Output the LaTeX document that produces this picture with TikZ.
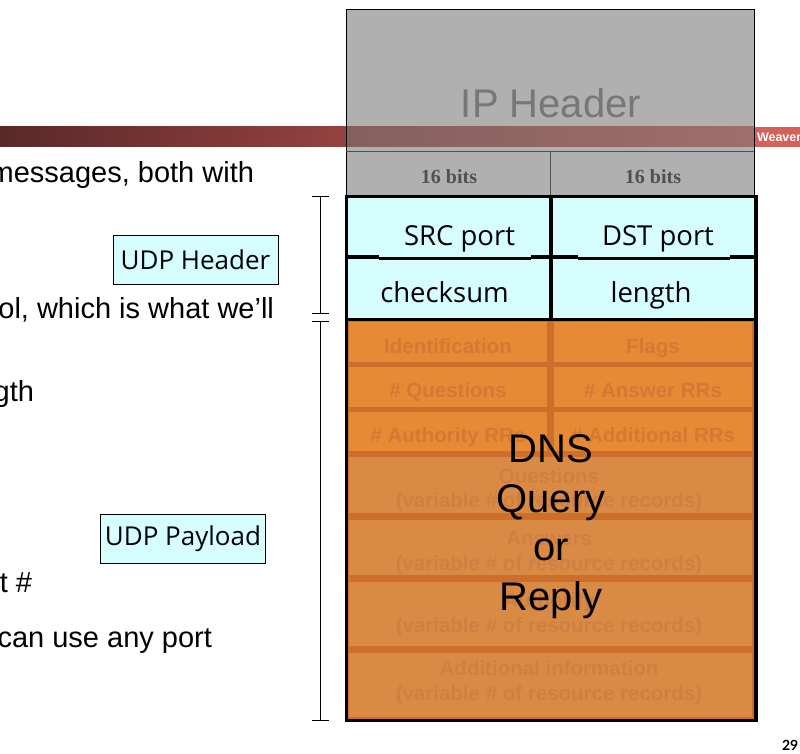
\documentclass[tikz,border=0pt]{standalone}
\usepackage{fontspec}
\setmainfont{Liberation Sans}
\newfontfamily\serfont{Liberation Serif}
\newfontfamily\comicfont{Open Sans}
\newfontfamily\numfont{Lato}
\usetikzlibrary{calc}
\definecolor{banL}{HTML}{5A2828}
\definecolor{banM}{HTML}{944240}
\definecolor{banR}{HTML}{D4605A}
\definecolor{ovL}{HTML}{84605D}
\definecolor{ovR}{HTML}{A06E6B}
\definecolor{ipgray}{HTML}{B0B0B0}
\definecolor{iptext}{HTML}{777777}
\definecolor{bitstext}{HTML}{505050}
\definecolor{udpcyan}{HTML}{D6FEFF}
\definecolor{orup}{HTML}{E68A35}
\definecolor{orsep}{HTML}{CD6F2B}
\definecolor{orlow}{HTML}{D98B45}
\definecolor{ortxtA}{HTML}{D27A33}
\definecolor{ortxtB}{HTML}{D07F42}
\newcommand\myfs[1]{\fontsize{#1}{#1}\selectfont}
\begin{document}
\begin{tikzpicture}[x=1pt,y=-1pt,
  every node/.style={inner sep=0pt, outer sep=0pt},
  slidetxt/.style={anchor=base east, font=\myfs{29}, text=black},
  celltxt/.style={anchor=base, font=\comicfont\myfs{27.5}, text=black},
  fieldA/.style={anchor=base, font=\bfseries\myfs{20.5}, text=ortxtA},
  fieldB/.style={anchor=base, font=\bfseries\myfs{20.5}, text=ortxtB},
  bitstxt/.style={anchor=base, font=\serfont\bfseries\myfs{20}, text=bitstext},
  bigtxt/.style={anchor=base, font=\myfs{40}, text=black},
  labelbox/.style={draw=black, line width=1pt, fill=udpcyan, minimum width=165pt, minimum height=49pt, font=\comicfont\myfs{26}},
  bracket/.style={draw=black, line width=1pt},
  thickln/.style={draw=black, line width=3.5pt}]
\useasboundingbox (0,0) rectangle (800,754);
\fill[white] (0,0) rectangle (800,754);

% banner
\shade[left color=banL, right color=banM] (0,127) rectangle (346,147);
\fill[banR] (754,127) rectangle (800,147);
\node[anchor=base west, text=white, font=\bfseries\myfs{12.5}] (weaver) at (757,142) {Weaver};

% IP header box
\fill[ipgray] (346,10) rectangle (754,196);
\shade[left color=ovL, right color=ovR] (346,127) rectangle (754,147);
\draw[line width=1pt] (346,196) -- (346,10) -- (754,10) -- (754,196);
\draw[line width=1pt, draw=bitstext] (346,152) -- (754,152);
\draw[line width=1pt, draw=bitstext] (550,152) -- (550,196);
\node[anchor=base, font=\myfs{40}, text=iptext] (iphdr) at (551,118) {IP Header};
\node[bitstxt] (bitsL) at (449,184) {16 bits};
\node[bitstxt] (bitsR) at (653,184) {16 bits};

% UDP header
\fill[udpcyan] (346,196) rectangle (756,320);
\draw[thickln] (346.5,196.5) rectangle (756,320);
\draw[line width=4pt] (551,196.5) -- (551,320);
\draw[thickln] (346.5,257) -- (379,257);
\draw[thickln] (379,258.5) -- (531,258.5);
\draw[thickln] (531,257) -- (578,257);
\draw[thickln] (578,258.5) -- (730,258.5);
\draw[thickln] (730,257) -- (756,257);
\node[celltxt] (src) at (459.5,245) {SRC port};
\node[celltxt] (dst) at (658,245) {DST port};
\node[celltxt] (chk) at (444.5,302) {checksum};
\node[celltxt] (len) at (651,302) {length};

% DNS message (orange)
\fill[orsep] (346,321) rectangle (756,721);
\fill[orup] (349,322) rectangle (547,362);
\fill[orup] (554,322) rectangle (752,362);
\fill[orup] (349,367) rectangle (547,407);
\fill[orup] (554,367) rectangle (752,407);
\fill[orup] (349,412) rectangle (547,451);
\fill[orup] (554,412) rectangle (752,451);
\fill[orlow] (349,457) rectangle (752,513);
\fill[orlow] (349,520) rectangle (752,575);
\fill[orlow] (349,582) rectangle (752,646);
\fill[orlow] (349,653) rectangle (752,717);
\draw[thickln, line join=miter] (346.5,321) -- (346.5,720.5) -- (756,720.5) -- (756,321);

\node[fieldA] (ident) at (448,353) {Identification};
\node[fieldA] (flags) at (653,353) {Flags};
\node[fieldA] (nq) at (448,397) {\# Questions};
\node[fieldA] (nans) at (653,397) {\# Answer RRs};
\node[fieldA] (nauth) at (448,442) {\# Authority RRs};
\node[fieldA] (nadd) at (653,442) {\# Additional RRs};
\node[fieldB] (q1) at (549,483) {Questions};
\node[fieldB] (q2) at (549,507) {(variable \# of resource records)};
\node[fieldB] (a1) at (549,545) {Answers};
\node[fieldB] (a2) at (549,570) {(variable \# of resource records)};
\node[fieldB] (au1) at (549,607) {Authority};
\node[fieldB] (au2) at (549,632) {(variable \# of resource records)};
\node[fieldB] (ad1) at (549,675) {Additional information};
\node[fieldB] (ad2) at (549,700) {(variable \# of resource records)};

\node[bigtxt] (dns1) at (551,462) {DNS};
\node[bigtxt] (dns2) at (551,512) {Query};
\node[bigtxt] (dns3) at (551,560) {or};
\node[bigtxt] (dns4) at (551,610) {Reply};

% brackets
\coordinate (b1t) at (320.5,197);
\coordinate (b1b) at (320.5,313);
\coordinate (b2t) at (320.5,321.5);
\coordinate (b2b) at (320.5,720);
\draw[bracket] (b1t) -- (b1b);
\draw[bracket] ([xshift=-8.5pt]b1t) -- ([xshift=8.5pt]b1t);
\draw[bracket] ([xshift=-8.5pt]b1b) -- ([xshift=8.5pt]b1b);
\draw[bracket] (b2t) -- (b2b);
\draw[bracket] ([xshift=-8.5pt]b2t) -- ([xshift=8.5pt]b2t);
\draw[bracket] ([xshift=-8.5pt]b2b) -- ([xshift=8.5pt]b2b);

% labels
\node[labelbox] (udphdr) at (195.5,259.5) {UDP Header};
\node[labelbox] (udppay) at (183,538.5) {UDP Payload};

% slide text fragments
\node[slidetxt] (t1) at (254,183) {messages, both with};
\node[slidetxt] (t2) at (274,318) {ol, which is what we’ll};
\node[slidetxt] (t3) at (34,401) {length};
\node[slidetxt] (t4) at (32,592) {t \#};
\node[slidetxt] (t5) at (212,647) {can use any port};

\node[anchor=base west, font=\numfont\bfseries\myfs{14}, text=black] (pnum) at (782,750) {29};
\end{tikzpicture}
\end{document}
